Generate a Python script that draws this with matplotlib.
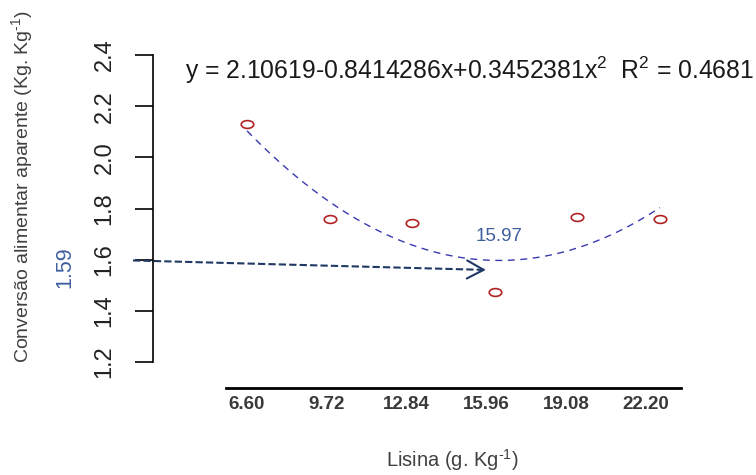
import numpy as np
import matplotlib
matplotlib.use('Agg')
import matplotlib.pyplot as plt
from matplotlib.path import Path

plt.rcParams['font.family'] = ['Liberation Sans', 'DejaVu Sans']
plt.rcParams['mathtext.fontset'] = 'custom'
plt.rcParams['mathtext.rm'] = 'Liberation Sans'
plt.rcParams['mathtext.it'] = 'Liberation Sans:italic'

# dados
lisina = ['6.60', '9.72', '12.84', '15.96', '19.08', '22.20']
nivel = [1, 2, 3, 4, 5, 6]
conversao = [2.13, 1.759, 1.744, 1.474, 1.767, 1.759]
y_ticks = [1.2, 1.4, 1.6, 1.8, 2.0, 2.2, 2.4]
x_otimo = '15.97'
y_otimo = '1.59'
equacao = r'y = 2.10619-0.8414286x+0.3452381x$^{2}$  R$^{2}$ = 0.4681'

W, H = 756, 475
fig = plt.figure(figsize=(7.56, 4.75), dpi=100)
ax = fig.add_axes([123.1 / W, (H - 387.6) / H, 578.2 / W, 358.2 / H])
ax.set_xlim(-0.5, 6.5)
ax.set_ylim(1.1, 2.5)

# ajuste quadratico
coef = np.polyfit(nivel, conversao, 2)
xs = np.linspace(nivel[0], nivel[-1], 200)
ax.plot(xs, np.polyval(coef, xs), color='#3a3ab0', lw=1.0, linestyle=(0, (5, 4)))

# pontos (elipse)
circ = Path.unit_circle()
elipse = Path(circ.vertices * np.array([1.6, 1.0]), circ.codes)
ax.plot(nivel, conversao, linestyle='none', marker=elipse, markersize=9,
        mfc='none', mec='#b22222', mew=1.2)

# seta do ponto otimo
xmin = -coef[1] / (2 * coef[0])
ymin = np.polyval(coef, xmin)
x0, y0 = -0.38, ymin
x1, y1 = xmin - 0.16, ymin - 0.037
ax.plot([x0, x1], [y0, y1], color='#1f3864', lw=1.5, linestyle=(0, (3.5, 1.5)),
        clip_on=False)
ax.annotate('', xy=(x1, y1), xytext=(x1 - 0.05, y1 + 0.0004),
            arrowprops=dict(arrowstyle='->,head_length=1.2,head_width=0.65',
                            color='#1f3864', lw=1.5, shrinkA=0, shrinkB=0))
ax.text(xmin, ymin + 0.092, x_otimo, color='#3f5f9f', fontsize=13.5,
        ha='center', va='center')

# eixos
for s in ['top', 'right']:
    ax.spines[s].set_visible(False)
ax.spines['left'].set_position(('data', -0.138))
ax.spines['left'].set_bounds(1.2, 2.4)
ax.spines['left'].set_linewidth(1.2)
ax.spines['bottom'].set_bounds(0.746, 6.254)
ax.spines['bottom'].set_linewidth(2.0)

ax.set_yticks(y_ticks)
ax.set_yticklabels(['%.1f' % v for v in y_ticks], rotation=90, va='center',
                   fontsize=17, color='#222222')
ax.tick_params(axis='y', direction='out', length=13, width=1.2, pad=14)

ax.set_xticks(np.linspace(1, 5.83, len(lisina)))
ax.set_xticklabels(lisina, fontweight='bold', fontsize=13.5, color='#3a3a3a')
ax.tick_params(axis='x', length=0, pad=6)

# textos
fig.text(185 / W, 1 - 70 / H, equacao, fontsize=17.8, color='#1a1a1a',
         ha='left', va='center')
fig.text(452 / W, 1 - 460 / H, 'Lisina (g. Kg$^{\u20101}$)', fontsize=14.5,
         color='#404040', ha='center', va='center')
fig.text(22 / W, 1 - 187 / H,
         'Convers\u00e3o alimentar aparente (Kg. Kg$^{\u20101}$)',
         fontsize=14, color='#404040', rotation=90, ha='center', va='center')
fig.text(64.5 / W, 1 - 267 / H, y_otimo, fontsize=15.5, color='#3f5f9f',
         rotation=90, ha='center', va='center')

plt.savefig('out.png', dpi=100)
